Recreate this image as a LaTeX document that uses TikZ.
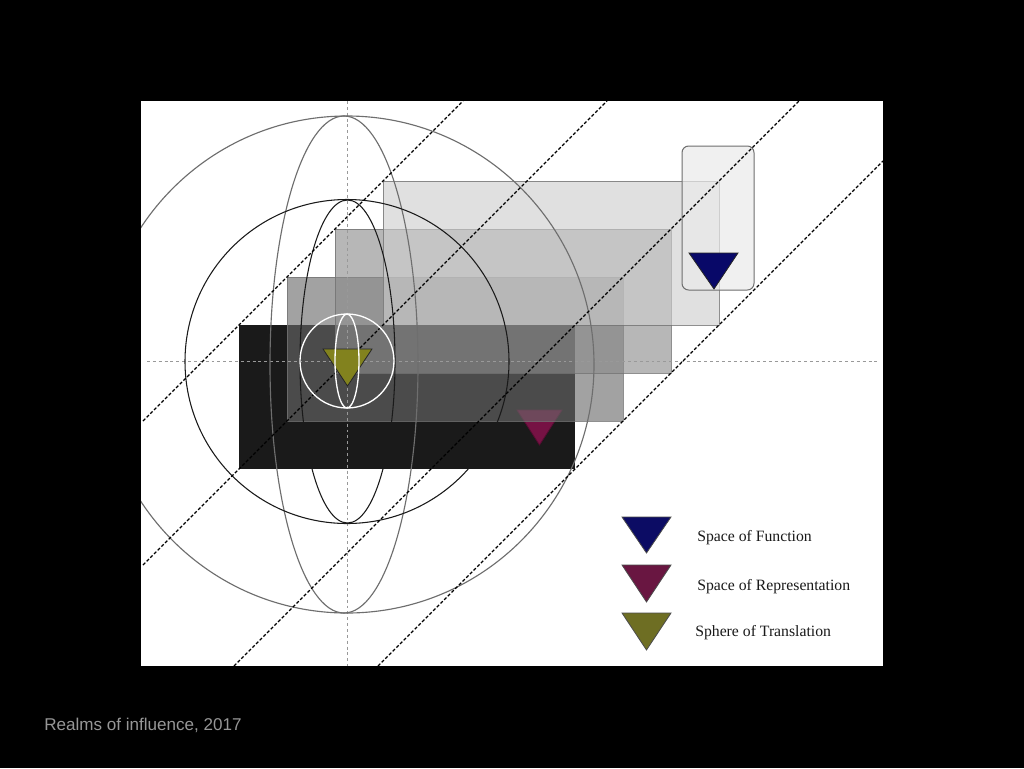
\documentclass[tikz,border=0pt]{standalone}
\usepackage{fontspec}
\setmainfont{Liberation Serif}
\newfontfamily\capfont{Liberation Sans}
\definecolor{rOne}{RGB}{26,26,26}
\definecolor{rTwo}{RGB}{106,106,106}
\definecolor{rThree}{RGB}{140,140,140}
\definecolor{rFour}{RGB}{206,206,206}
\definecolor{boxfill}{RGB}{234,234,234}
\definecolor{edgegray}{RGB}{110,110,110}
\definecolor{navyT}{RGB}{8,8,104}
\definecolor{maroonT}{RGB}{118,18,68}
\definecolor{oliveT}{RGB}{130,130,30}
\definecolor{navyL}{RGB}{12,12,100}
\definecolor{maroonL}{RGB}{105,22,65}
\definecolor{oliveL}{RGB}{110,110,35}
\definecolor{captiongray}{RGB}{150,150,150}
\definecolor{legendtext}{RGB}{25,25,25}
\begin{document}
\begin{tikzpicture}[x=0.75pt,y=-0.75pt,
  realm/.style={draw=black!55,line width=0.6pt,fill opacity=0.62,draw opacity=0.8},
  guide/.style={black,line width=0.95pt,dash pattern=on 2.4pt off 1.5pt},
  cross/.style={black!40,line width=0.45pt,dash pattern=on 2.2pt off 2.2pt},
  grayring/.style={edgegray,line width=0.85pt},
  blackring/.style={rOne,line width=0.8pt},
  whitering/.style={white,line width=1pt},
  tri/.style={draw=black!85,line width=0.6pt,line join=miter},
  legendlabel/.style={anchor=west,inner sep=0pt,text=legendtext,font=\fontsize{11.8}{14}\selectfont}]
\useasboundingbox (0,0) rectangle (1024,768);
\fill[black] (0,0) rectangle (1024,768);
\fill[white] (141,101) rectangle (883,666);
\begin{scope}
\clip (141,101) rectangle (883,666);
% realms (rectangles)
\fill[rOne] (239,325) rectangle (575,469);
\filldraw[tri,fill=maroonT,draw=maroonT!70!black] (517,410) -- (562,410) -- (539.5,445) -- cycle;
\filldraw[realm,fill=rTwo] (287,277) rectangle (623,421);
\filldraw[realm,fill=rThree] (335,229) rectangle (671,373);
\filldraw[realm,fill=rFour] (383,181) rectangle (719,325);
% function box
\filldraw[draw=edgegray,line width=0.75pt,fill=boxfill,fill opacity=0.7,rounded corners=5pt] (682,146) rectangle (754,290);
% crosshair
\coordinate (vtop) at (347,101);
\coordinate (vbot) at (347,666);
\coordinate (hleft) at (147,361);
\coordinate (hright) at (880,361);
\draw[cross] (vtop) -- (vbot);
\draw[cross] (hleft) -- (hright);
% circles and ellipses
\draw[grayring] (347,364.5) ellipse [x radius=247, y radius=248.5];
\draw[grayring] (344,364.5) ellipse [x radius=74, y radius=248.5];
\draw[blackring] (347,361.5) ellipse [x radius=162, y radius=162];
\draw[blackring] (347.5,361.5) ellipse [x radius=47.5, y radius=161.5];
% dashed guides through the corners
\coordinate (a1) at (143,421); \coordinate (a2) at (463,101);
\coordinate (b1) at (143,565); \coordinate (b2) at (607,101);
\coordinate (c1) at (234,666); \coordinate (c2) at (799,101);
\coordinate (d1) at (378,666); \coordinate (d2) at (883,161);
\draw[guide] (a1) -- (a2);
\draw[guide] (b1) -- (b2);
\draw[guide] (c1) -- (c2);
\draw[guide] (d1) -- (d2);
% markers
\filldraw[tri,fill=oliveT] (323,349) -- (372,349) -- (347.5,386) -- cycle;
\filldraw[tri,fill=navyT] (689,253) -- (738,253) -- (714,289) -- cycle;
% white sphere
\draw[whitering] (347,361) ellipse [x radius=47, y radius=47];
\draw[whitering] (347,361) ellipse [x radius=12, y radius=47];
% legend
\filldraw[tri,fill=navyL,draw=black!70] (622,517) -- (671,517) -- (646.5,553) -- cycle;
\filldraw[tri,fill=maroonL,draw=black!70] (622,565) -- (671,565) -- (646.5,602) -- cycle;
\filldraw[tri,fill=oliveL,draw=black!70] (622,613) -- (671,613) -- (646.5,650) -- cycle;
\node[legendlabel] (lfunc) at (697,537.5) {Space of Function};
\node[legendlabel] (lrep) at (697,586.5) {Space of Representation};
\node[legendlabel] (ltrans) at (695,633) {Sphere of Translation};
\end{scope}
\node[anchor=west,inner sep=0pt,text=captiongray,font=\capfont\fontsize{12.8}{15}\selectfont] (caption) at (44,725.5) {Realms of influence, 2017};
\end{tikzpicture}
\end{document}
